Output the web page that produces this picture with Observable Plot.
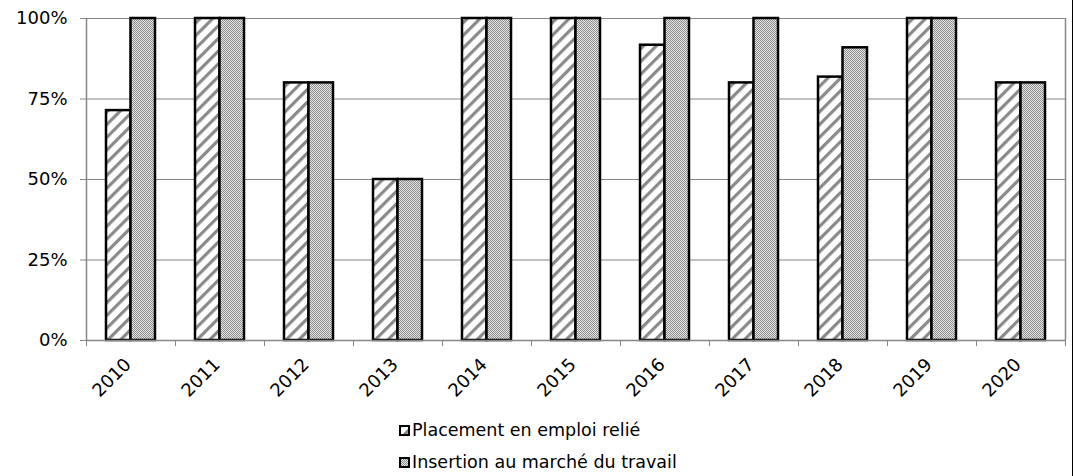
<!DOCTYPE html>
<html>
<head>
<meta charset="utf-8">
<script src="https://cdn.jsdelivr.net/npm/d3@7"></script>
<script src="https://cdn.jsdelivr.net/npm/@observablehq/plot@0.6"></script>
<style>
  html, body { margin: 0; padding: 0; background: #fff; }
  #wrap { position: relative; width: 1074px; height: 476px; overflow: hidden; font-family: "DejaVu Sans", sans-serif; }
  #edge { position: absolute; left: 1072px; top: 0; width: 1px; height: 476px; background: #000; }
  #legend { position: absolute; left: 399px; top: 414px; font-size: 17.5px; color: #000; }
  .item { display: flex; align-items: center; height: 32px; }
  .item svg { margin-right: 2px; }
</style>
</head>
<body>
<div id="wrap">
  <div id="chart"></div>
  <div id="legend"></div>
  <div id="edge"></div>
</div>
<script>
const years = ["2010","2011","2012","2013","2014","2015","2016","2017","2018","2019","2020"];
const placement = [71.4, 100, 80, 50, 100, 100, 91.7, 80, 81.8, 100, 80];
const insertion = [100, 100, 80, 50, 100, 100, 100, 100, 90.9, 100, 80];
const seriesNames = ["Placement en emploi relié", "Insertion au marché du travail"];
const yTicks = [0, 25, 50, 75, 100];
const gridTicks = [25, 50, 75, 100];

const fills = ["url(#hatch)", "url(#checker)"];
const rowsA = years.map((y, i) => ({year: y, i, series: seriesNames[0], value: placement[i]}));
const rowsB = years.map((y, i) => ({year: y, i, series: seriesNames[1], value: insertion[i]}));
const n = years.length;
const boundaries = d3.range(n + 1);

const gray = "#868686";

const chart = Plot.plot({
  width: 1074,
  height: 410,
  marginTop: 18,
  marginBottom: 70,
  marginLeft: 86,
  marginRight: 9,
  style: {fontFamily: "'DejaVu Sans', sans-serif", fontSize: "18px", color: "#000", background: "transparent"},
  x: {type: "linear", domain: [0, n], axis: null},
  y: {domain: [0, 100], axis: null},
  marks: [
    Plot.ruleY(gridTicks, {y: d => d, stroke: gray, strokeWidth: 1}),
    Plot.rectY(rowsA, {x1: d => d.i, x2: d => d.i + 1, y1: 0, y2: "value", fill: fills[0], stroke: "#000", strokeWidth: 2.5, insetLeft: 20, insetRight: 44.5}),
    Plot.rectY(rowsB, {x1: d => d.i, x2: d => d.i + 1, y1: 0, y2: "value", fill: fills[1], stroke: "#000", strokeWidth: 2.5, insetLeft: 44.5, insetRight: 20}),
    Plot.ruleX([0], {stroke: gray, strokeWidth: 1.5}),
    Plot.ruleX([n], {stroke: gray, strokeWidth: 1.5}),
    Plot.ruleY([0], {stroke: gray, strokeWidth: 1.5}),
    Plot.axisY({ticks: yTicks, tickFormat: d => d + "%", tickSize: 6, tickPadding: 13, stroke: gray, fontSize: 18, label: null}),
    Plot.axisX({ticks: boundaries, tickFormat: () => "", tickSize: 6, stroke: gray, label: null}),
    Plot.text(years, {x: (d, i) => i + 0.5, y: 0, text: d => d, rotate: -45, textAnchor: "end", lineAnchor: "middle", dx: -3, dy: 21, fontSize: 18, fill: "#000"})
  ]
});

function addDefs(svg, suffix) {
  const ns = "http://www.w3.org/2000/svg";
  const defs = document.createElementNS(ns, "defs");
  defs.innerHTML = `
    <pattern id="hatch${suffix}" patternUnits="userSpaceOnUse" width="9" height="9" patternTransform="rotate(45)">
      <rect width="9" height="9" fill="#fff"/>
      <rect x="0" y="0" width="3.2" height="9" fill="#8a8a8a"/>
    </pattern>
    <pattern id="checker${suffix}" patternUnits="userSpaceOnUse" width="2" height="2">
      <rect width="2" height="2" fill="#e4e4e4"/>
      <rect x="0" y="0" width="1" height="1" fill="#8f8f8f"/>
      <rect x="1" y="1" width="1" height="1" fill="#8f8f8f"/>
    </pattern>`;
  svg.insertBefore(defs, svg.firstChild);
}
addDefs(chart, "");
document.getElementById("chart").appendChild(chart);

const legend = document.getElementById("legend");
seriesNames.forEach((name, k) => {
  const item = document.createElement("div");
  item.className = "item";
  const sw = document.createElementNS("http://www.w3.org/2000/svg", "svg");
  sw.setAttribute("width", "11");
  sw.setAttribute("height", "11");
  addDefs(sw, "L" + k);
  const r = document.createElementNS("http://www.w3.org/2000/svg", "rect");
  r.setAttribute("x", "1"); r.setAttribute("y", "1");
  r.setAttribute("width", "9"); r.setAttribute("height", "9");
  r.setAttribute("fill", fills[k].replace(")", "L" + k + ")"));
  r.setAttribute("stroke", "#000"); r.setAttribute("stroke-width", "2");
  sw.appendChild(r);
  item.appendChild(sw);
  const t = document.createElement("span");
  t.textContent = name;
  item.appendChild(t);
  legend.appendChild(item);
});
</script>
</body>
</html>
